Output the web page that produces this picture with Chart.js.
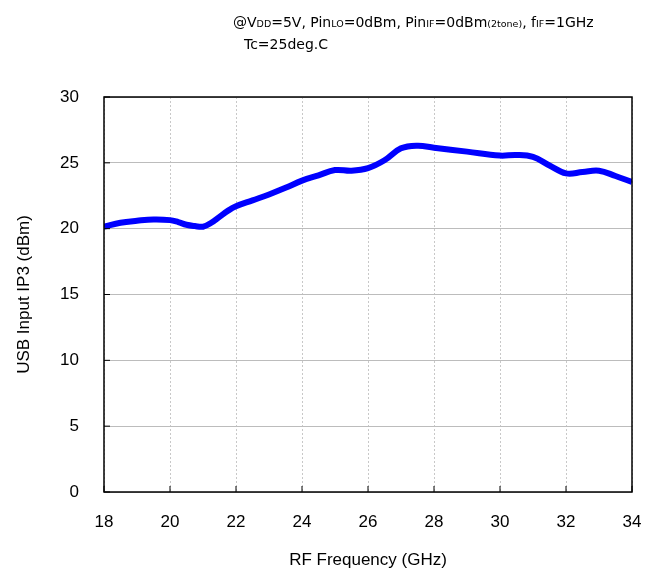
<!DOCTYPE html>
<html>
<head>
  <title>USB Input IP3 vs RF Frequency</title>
  <script src="https://cdn.jsdelivr.net/npm/chart.js"></script>
  <style>
    body { margin: 0; background: #fff; }
    #wrap { position: relative; width: 657px; height: 575px; }
    .cond { position: absolute; font-family: "DejaVu Sans", Tahoma, sans-serif; font-size: 14px; color: #000; white-space: nowrap; }
    .cond sub { font-size: 9.5px; vertical-align: baseline; }
  </style>
</head>
<body>
  <div id="wrap">
    <div class="cond" style="left:233px; top:14px;">@V<sub>DD</sub>=5V, Pin<sub>LO</sub>=0dBm, Pin<sub>IF</sub>=0dBm<sub>(2tone)</sub>, f<sub>IF</sub>=1GHz</div>
    <div class="cond" style="left:244px; top:36px;">Tc=25deg.C</div>
    <canvas id="chartIP3" width="657" height="575"></canvas>
  </div>

  <script>
    const freqs = [18, 18.5, 19, 19.5, 20, 20.25, 20.5, 20.75, 21, 21.25, 21.5, 21.75, 22, 22.5, 23, 23.5, 24, 24.5, 25, 25.5, 26, 26.5, 27, 27.5, 28, 29, 30, 30.5, 31, 31.5, 32, 32.5, 33, 33.5, 34];
    const ip3 = [20.15, 20.45, 20.6, 20.7, 20.65, 20.5, 20.3, 20.2, 20.15, 20.45, 20.9, 21.35, 21.7, 22.15, 22.6, 23.1, 23.65, 24.05, 24.45, 24.4, 24.6, 25.2, 26.1, 26.3, 26.15, 25.85, 25.55, 25.6, 25.45, 24.8, 24.2, 24.3, 24.4, 24.0, 23.55];
    const xTicks = [18, 20, 22, 24, 26, 28, 30, 32, 34];
    const yTicks = [0, 5, 10, 15, 20, 25, 30];

    const font = { family: '"Liberation Sans", Arial, sans-serif', size: 17 };

    // frame + inward tick marks
    const frame = {
      id: 'frame',
      afterDraw(chart) {
        const { ctx, chartArea: a, scales } = chart;
        ctx.save();
        ctx.strokeStyle = '#000';
        ctx.lineWidth = 1.5;
        ctx.strokeRect(a.left, a.top, a.right - a.left, a.bottom - a.top);
        ctx.lineWidth = 1;
        scales.x.ticks.forEach((t, i) => {
          const px = scales.x.getPixelForTick(i);
          ctx.beginPath(); ctx.moveTo(px, a.bottom); ctx.lineTo(px, a.bottom - 6); ctx.stroke();
        });
        scales.y.ticks.forEach((t, i) => {
          const py = scales.y.getPixelForTick(i);
          ctx.beginPath(); ctx.moveTo(a.left, py); ctx.lineTo(a.left + 6, py); ctx.stroke();
        });
        ctx.restore();
      }
    };

    new Chart(document.getElementById('chartIP3'), {
      type: 'line',
      data: {
        datasets: [{
          data: freqs.map((f, i) => ({ x: f, y: ip3[i] })),
          borderColor: '#0000ff',
          borderWidth: 6,
          pointRadius: 0,
          tension: 0.4,
          fill: false
        }]
      },
      options: {
        responsive: false,
        animation: false,
        layout: { padding: { top: 97, right: 25 } },
        plugins: { legend: { display: false }, tooltip: { enabled: false } },
        scales: {
          x: {
            type: 'linear', min: 18, max: 34,
            afterBuildTicks: s => { s.ticks = xTicks.map(v => ({ value: v })); },
            afterFit: s => { s.height = 83; s.paddingLeft = 0; s.paddingRight = 0; },
            ticks: { font, color: '#000', padding: 20 },
            grid: { color: '#c8c8c8', borderDash: [2, 2], drawTicks: false },
            border: { display: false, dash: [2, 2] },
            title: { display: true, text: 'RF Frequency (GHz)', font, color: '#000', padding: { top: 14 } }
          },
          y: {
            min: 0, max: 30,
            afterBuildTicks: s => { s.ticks = yTicks.map(v => ({ value: v })); },
            afterFit: s => { s.width = 104; s.paddingTop = 0; s.paddingBottom = 0; },
            ticks: { font, color: '#000', padding: 25 },
            grid: { color: '#bcbcbc', drawTicks: false },
            border: { display: false },
            title: { display: true, text: 'USB Input IP3 (dBm)', font, color: '#000', padding: { top: 14, bottom: 0 } }
          }
        }
      },
      plugins: [frame]
    });
  </script>
</body>
</html>
